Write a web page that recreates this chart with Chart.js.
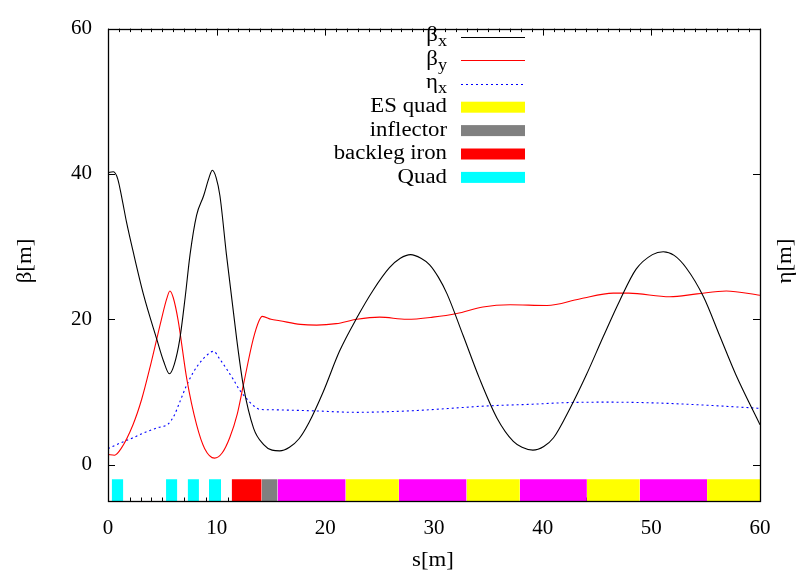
<!DOCTYPE html>
<html>
<head>
<meta charset="utf-8">
<script src="https://cdn.jsdelivr.net/npm/chart.js@4/dist/chart.umd.min.js"></script>
<style>
  body { margin: 0; background: #fff; }
  canvas { display: block; }
</style>
</head>
<body>
<canvas id="optics" width="803" height="571"></canvas>
<script>
// lattice functions along s [m]
var betaXs = [0, 0.5, 0.9, 1.3, 1.7, 2.3, 3.25, 4.5, 5.1, 5.65, 6.1, 6.6, 7.1, 7.55, 8.15, 8.8, 9.3, 9.6, 9.95, 10.3, 10.9, 11.85, 12.45, 13.4, 14.3, 15.1, 15.8, 16.7, 17.6, 18.5, 19.8, 21.3, 22.9, 24.4, 25.9, 26.9, 27.85, 28.8, 29.6, 30.4, 31.2, 32.7, 34.2, 35.8, 37.3, 38.1, 39.1, 40.1, 41.0, 42.5, 44.0, 45.6, 47.1, 48.6, 50.1, 51.1, 52.1, 53.2, 54.8, 56.3, 57.8, 60];
var betaX  = [40.2, 40.3, 39.3, 36.5, 33.4, 29.4, 23.5, 17.2, 14.3, 12.5, 13.8, 17.2, 23.0, 28.9, 34.3, 37.0, 39.5, 40.5, 39.5, 37.0, 28.9, 17.2, 10.9, 5.0, 2.8, 2.0, 1.9, 2.4, 3.6, 5.8, 10.0, 15.6, 20.2, 24.0, 27.1, 28.4, 28.9, 28.4, 27.5, 25.8, 23.5, 17.7, 11.8, 6.4, 3.2, 2.4, 2.0, 2.5, 3.7, 7.7, 12.3, 17.7, 22.6, 26.9, 28.9, 29.3, 28.8, 27.1, 23.1, 17.7, 12.3, 5.5];

var betaYs = [0, 0.6, 1.2, 2.3, 3.1, 3.9, 4.9, 5.4, 5.7, 6.0, 6.45, 7.25, 8.15, 8.9, 9.8, 10.5, 11.2, 11.9, 12.45, 13.35, 13.9, 14.2, 15.0, 15.8, 17.7, 19.2, 21.0, 22.9, 25.0, 27.5, 29.9, 32.1, 34.5, 37.0, 40.4, 43.4, 46.5, 47.9, 51.7, 54.2, 56.9, 60];
var betaY  = [1.4, 1.3, 2.2, 5.5, 9.0, 13.6, 19.9, 22.8, 23.9, 23.0, 19.9, 11.8, 5.5, 2.2, 0.9, 1.6, 3.7, 7.0, 10.9, 17.2, 19.8, 20.4, 20.0, 19.8, 19.3, 19.2, 19.4, 20.0, 20.3, 20.0, 20.3, 20.8, 21.7, 22.0, 21.9, 22.8, 23.6, 23.6, 23.1, 23.5, 23.9, 23.3];

var etaXs = [0, 1.0, 2.3, 3.5, 4.6, 5.55, 6.1, 6.6, 7.2, 7.85, 8.6, 9.2, 9.7, 10.3, 10.9, 11.5, 12.1, 12.75, 13.4, 14.0, 15.0, 16.7, 19.0, 22.9, 26.0, 29.0, 32.0, 35.1, 38.8, 42.5, 46.0, 50.2, 54.8, 60];
var etaX  = [2.2, 2.9, 3.7, 4.5, 5.1, 5.6, 6.8, 8.6, 10.8, 12.7, 14.3, 15.2, 15.6, 14.5, 13.2, 11.8, 10.3, 9.1, 8.1, 7.6, 7.55, 7.5, 7.4, 7.2, 7.3, 7.5, 7.8, 8.1, 8.3, 8.55, 8.6, 8.5, 8.2, 7.75];

// lattice elements: start, end [m] and kind
var elemStart = [0.34, 5.34, 7.33, 9.29, 11.38, 14.14, 15.6, 21.87, 26.77, 33.0, 37.9, 44.07, 48.94, 55.13];
var elemEnd   = [1.41, 6.38, 8.37, 10.4, 14.14, 15.6, 21.87, 26.77, 33.0, 37.9, 44.07, 48.94, 55.13, 60];
var elemKind  = ['quad', 'quad', 'quad', 'quad', 'backleg', 'inflector', 'sector', 'esquad', 'sector', 'esquad', 'sector', 'esquad', 'sector', 'esquad'];
var elemTop = -2;

var xTicks = [0, 10, 20, 30, 40, 50, 60];
var yTicks = [0, 20, 40, 60];

var kindColor = {
    quad: '#00ffff',
    backleg: '#ff0000',
    inflector: '#808080',
    sector: '#ff00ff',
    esquad: '#ffff00'
};

// key entries (label, subscript, sample style)
var legendRows = [
    { text: 'β', sub: 'x', line: '#000000' },
    { text: 'β', sub: 'y', line: '#ff0000' },
    { text: 'η', sub: 'x', line: '#0000ff', dash: [2, 3] },
    { text: 'ES quad', box: kindColor.esquad },
    { text: 'inflector', box: kindColor.inflector },
    { text: 'backleg iron', box: kindColor.backleg },
    { text: 'Quad', box: kindColor.quad }
];

var SERIF = '"Liberation Serif", "DejaVu Serif", serif';
var WIDE = 1.14; // horizontal stretch of the serif text

function pts(xs, ys) {
    return xs.map(function (x, i) { return { x: x, y: ys[i] }; });
}

// text with a horizontal stretch, anchored by align
function wideText(ctx, str, x, y, align) {
    ctx.save();
    ctx.translate(x, y);
    ctx.scale(WIDE, 1);
    ctx.textAlign = align;
    ctx.fillText(str, 0, 0);
    ctx.restore();
    return ctx.measureText(str).width * WIDE;
}

var datasets = [];

elemStart.forEach(function (s0, i) {
    datasets.push({
        data: [{ x: s0, y: elemTop }, { x: elemEnd[i], y: elemTop }],
        borderWidth: 0,
        borderColor: 'rgba(0,0,0,0)',
        backgroundColor: kindColor[elemKind[i]],
        fill: 'start',
        pointRadius: 0,
        order: 5
    });
});

function curve(label, xs, ys, color, dash) {
    return {
        label: label,
        data: pts(xs, ys),
        borderColor: color,
        borderWidth: 1.1,
        borderDash: dash || [],
        pointRadius: 0,
        fill: false,
        cubicInterpolationMode: 'monotone'
    };
}

datasets.push(curve('βx', betaXs, betaX, '#000000'));
datasets.push(curve('βy', betaYs, betaY, '#ff0000'));
datasets.push(curve('ηx', etaXs, etaX, '#0000ff', [2, 3]));

// inward ticks on all four sides, frame, axis titles and key
var framePlugin = {
    id: 'gnuFrame',
    beforeDatasetsDraw: function (chart) {
        var ctx = chart.ctx, a = chart.chartArea;
        var xs = chart.scales.x, ys = chart.scales.y;
        ctx.save();
        ctx.strokeStyle = '#000';
        ctx.lineWidth = 1;
        ctx.beginPath();
        for (var s = 0; s <= 60; s++) {
            var px = Math.round(xs.getPixelForValue(s)) + 0.5;
            var len = (s % 10 === 0) ? 7 : 3.5;
            ctx.moveTo(px, a.bottom); ctx.lineTo(px, a.bottom - len);
            ctx.moveTo(px, a.top); ctx.lineTo(px, a.top + len);
        }
        yTicks.forEach(function (v) {
            var py = Math.round(ys.getPixelForValue(v)) + 0.5;
            ctx.moveTo(a.left, py); ctx.lineTo(a.left + 7, py);
            ctx.moveTo(a.right, py); ctx.lineTo(a.right - 7, py);
        });
        ctx.stroke();
        ctx.restore();
    },
    afterDraw: function (chart) {
        var ctx = chart.ctx, a = chart.chartArea;
        ctx.save();
        ctx.strokeStyle = '#000';
        ctx.lineWidth = 1.3;
        ctx.strokeRect(Math.round(a.left) + 0.5, Math.round(a.top) + 0.5,
            Math.round(a.right - a.left), Math.round(a.bottom - a.top));

        // axis titles
        ctx.fillStyle = '#000';
        ctx.font = '20px ' + SERIF;
        ctx.textBaseline = 'middle';
        wideText(ctx, 's[m]', 433, 561, 'center');
        ctx.save();
        ctx.translate(26, 261);
        ctx.rotate(-Math.PI / 2);
        wideText(ctx, 'β[m]', 0, 0, 'center');
        ctx.restore();
        ctx.save();
        ctx.translate(786, 261);
        ctx.rotate(-Math.PI / 2);
        wideText(ctx, 'η[m]', 0, 0, 'center');
        ctx.restore();

        // key
        var textRight = 447, x0 = 461, x1 = 525, rowY = 37, rowH = 23.4;
        legendRows.forEach(function (r, i) {
            var cy = rowY + i * rowH;
            ctx.textBaseline = 'middle';
            if (r.sub) {
                ctx.font = '16px ' + SERIF;
                var sw = wideText(ctx, r.sub, textRight, cy + 5, 'right');
                ctx.font = '20px ' + SERIF;
                wideText(ctx, r.text, textRight - sw, cy - 1, 'right');
            } else {
                ctx.font = '20px ' + SERIF;
                wideText(ctx, r.text, textRight, cy, 'right');
            }
            if (r.box) {
                ctx.fillStyle = r.box;
                ctx.fillRect(x0, cy - 5.5, x1 - x0, 11);
                ctx.fillStyle = '#000';
            } else {
                ctx.strokeStyle = r.line;
                ctx.lineWidth = 1.1;
                ctx.setLineDash(r.dash || []);
                ctx.beginPath();
                ctx.moveTo(x0, Math.round(cy) + 0.5);
                ctx.lineTo(x1, Math.round(cy) + 0.5);
                ctx.stroke();
                ctx.setLineDash([]);
            }
        });
        ctx.restore();
    }
};

new Chart(document.getElementById('optics').getContext('2d'), {
    type: 'line',
    data: { datasets: datasets },
    options: {
        responsive: false,
        animation: false,
        events: [],
        layout: { padding: { top: 20, left: 0, right: 0, bottom: 0 } },
        plugins: {
            legend: { display: false },
            tooltip: { enabled: false }
        },
        scales: {
            x: {
                type: 'linear',
                min: 0,
                max: 60,
                afterFit: function (s) { s.height = 70; },
                afterBuildTicks: function (s) { s.ticks = xTicks.map(function (v) { return { value: v }; }); },
                grid: { display: false, drawTicks: false },
                border: { display: false },
                ticks: {
                    padding: 15,
                    maxRotation: 0,
                    color: '#000',
                    font: { family: SERIF, size: 21 }
                }
            },
            y: {
                type: 'linear',
                position: 'left',
                min: -5,
                max: 60,
                afterFit: function (s) { s.width = 108; },
                afterBuildTicks: function (s) { s.ticks = yTicks.map(function (v) { return { value: v }; }); },
                grid: { display: false, drawTicks: false },
                border: { display: false },
                ticks: {
                    padding: 16,
                    color: '#000',
                    font: { family: SERIF, size: 21 }
                }
            },
            y2: {
                type: 'linear',
                position: 'right',
                min: -5,
                max: 60,
                afterFit: function (s) { s.width = 43; },
                grid: { display: false, drawTicks: false },
                border: { display: false },
                ticks: { display: false }
            }
        }
    },
    plugins: [framePlugin]
});
</script>
</body>
</html>
